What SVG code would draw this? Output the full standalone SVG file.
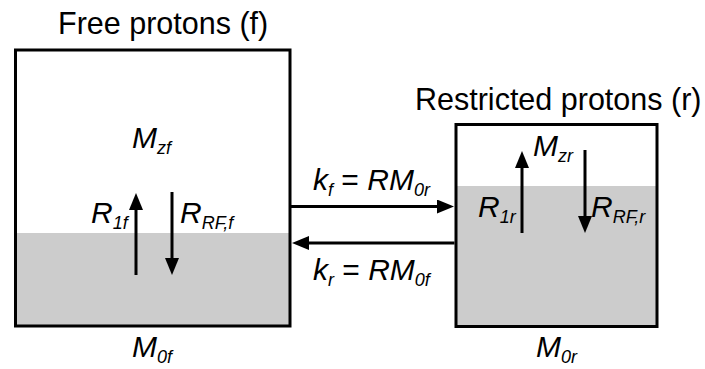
<svg xmlns="http://www.w3.org/2000/svg" width="705" height="369" viewBox="0 0 705 369">
<style>
.box{fill:none;stroke:#000;stroke-width:3}
.gray{fill:#cccccc}
.white{fill:#fff}
.ar{stroke:#000;stroke-width:3;fill:none;marker-end:url(#ah)}
.title{font-family:"Liberation Sans",Arial,sans-serif;font-size:30.5px;fill:#000}
.lbl{font-family:"Liberation Sans",Arial,sans-serif;font-size:30px;font-style:italic;fill:#000}
.sub{font-size:18px}
.up{font-style:normal}
</style>
<defs>
<marker id="ah" markerUnits="userSpaceOnUse" markerWidth="17" markerHeight="14" refX="4" refY="7" orient="auto">
<path d="M0,0 L17,7 L0,14 z" fill="#000"/>
</marker>
</defs>
<rect class="white" width="705" height="369"/>
<g id="free">
<text class="title" x="58" y="33.5">Free protons (f)</text>
<rect class="gray" x="15.5" y="233" width="274.5" height="93"/>
<rect class="box" x="15.5" y="50" width="274.5" height="276"/>
<text class="lbl" x="132" y="148">M<tspan class="sub" dy="6">zf</tspan></text>
<line class="ar" x1="136" y1="275" x2="136" y2="206"/>
<line class="ar" x1="172" y1="192" x2="172" y2="262"/>
<text class="lbl" x="91" y="223">R<tspan class="sub" dy="6">1f</tspan></text>
<text class="lbl" x="180" y="223">R<tspan class="sub" dy="6">RF,f</tspan></text>
<text class="lbl" x="132" y="357">M<tspan class="sub" dy="6">0f</tspan></text>
</g>
<g id="restricted">
<text class="title" x="415" y="109.5">Restricted protons (r)</text>
<rect class="gray" x="456" y="186" width="201" height="140.5"/>
<rect class="box" x="456" y="124.5" width="201" height="202"/>
<text class="lbl" x="533" y="156">M<tspan class="sub" dy="6">zr</tspan></text>
<line class="ar" x1="522" y1="233" x2="522" y2="164"/>
<line class="ar" x1="585" y1="150" x2="585" y2="220"/>
<text class="lbl" x="478" y="217">R<tspan class="sub" dy="6">1r</tspan></text>
<text class="lbl" x="591" y="217">R<tspan class="sub" dy="6">RF,r</tspan></text>
<text class="lbl" x="536" y="357">M<tspan class="sub" dy="6">0r</tspan></text>
</g>
<g id="connectors">
<line class="ar" x1="291" y1="206.5" x2="441" y2="206.5"/>
<line class="ar" x1="454.5" y1="243" x2="305" y2="243"/>
<text class="lbl" x="313" y="190">k<tspan class="sub" dy="6">f</tspan><tspan class="up" dy="-6"> = </tspan>RM<tspan class="sub" dy="6">0r</tspan></text>
<text class="lbl" x="313" y="280">k<tspan class="sub" dy="6">r</tspan><tspan class="up" dy="-6"> = </tspan>RM<tspan class="sub" dy="6">0f</tspan></text>
</g>
</svg>
